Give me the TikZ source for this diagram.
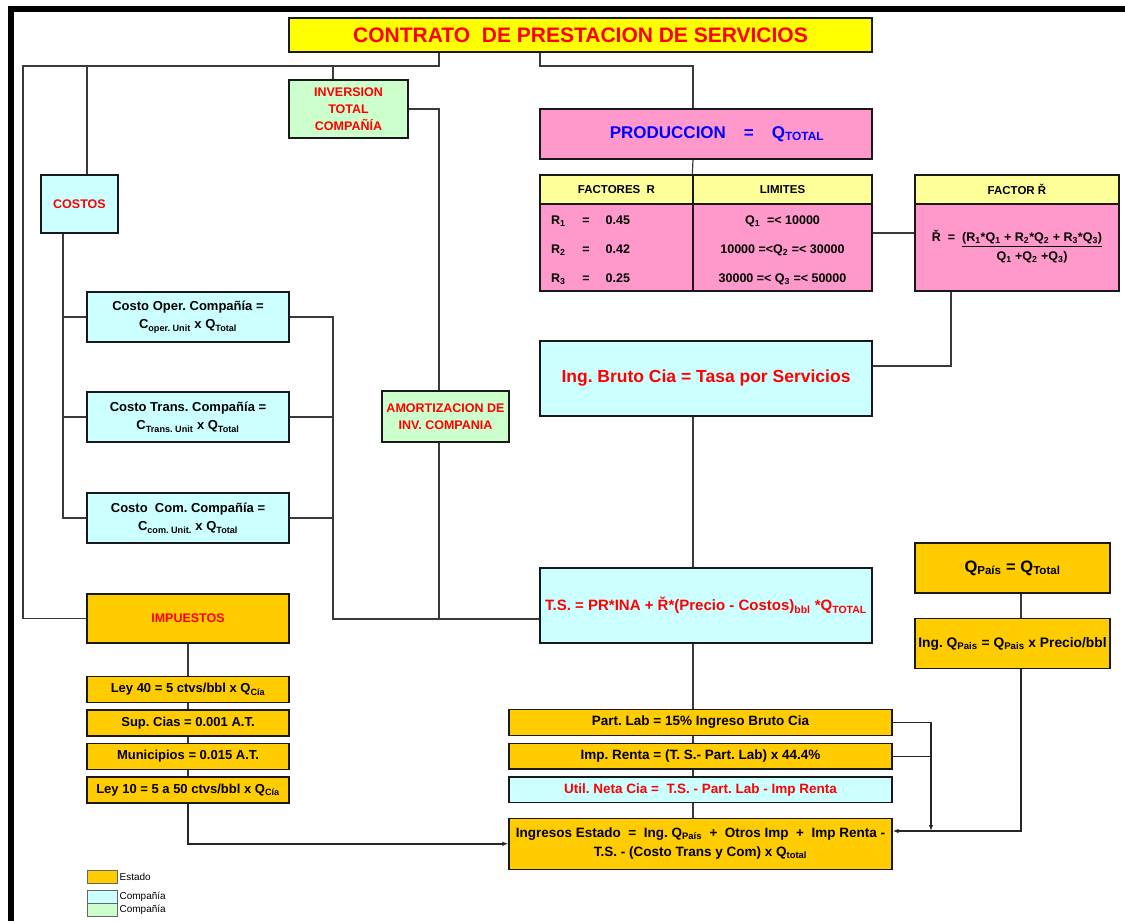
\documentclass[tikz,border=0pt]{standalone}
\usepackage{fontspec}
\setmainfont{Liberation Sans}
\usetikzlibrary{positioning,arrows.meta,calc}
\definecolor{titleyel}{HTML}{FFFF00}
\definecolor{headyel}{HTML}{FFFF99}
\definecolor{prodpink}{HTML}{FF99CC}
\definecolor{ciacyan}{HTML}{CCFFFF}
\definecolor{invgreen}{HTML}{CCFFCC}
\definecolor{estado}{HTML}{FFCC00}
\definecolor{txtred}{HTML}{FF0000}
\definecolor{txtblue}{HTML}{0000FF}
\definecolor{linegray}{HTML}{3A3A3A}
\newcommand{\dn}[1]{\textsubscript{#1}}
\newcommand{\fsz}[2]{\fontsize{#1}{#2}\selectfont\bfseries}
\frenchspacing

\begin{document}
\begin{tikzpicture}[x=1pt,y=-1pt,
      box/.style={draw=black!90,line width=1.3pt,inner sep=2pt,align=center},
      tax/.style={box,fill=estado,minimum width=202,minimum height=26,inner sep=1pt,font=\fsz{13}{15}},
      bot/.style={box,minimum width=383,minimum height=25.5,inner sep=1pt,font=\fsz{13.5}{16}},
      swatch/.style={draw=black!60,line width=0.8pt,minimum width=30,minimum height=13,inner sep=0pt},
      link/.style={draw=linegray,line width=1.2pt},
      arr/.style={draw=black!85,line width=1.6pt,-{Latex[length=6pt,width=4.5pt]}}]
    \useasboundingbox (0,0) rectangle (1125,921);
    \fill[black] (8,6) rectangle (1125,12);
    \fill[black] (8,6) rectangle (14,921);

    % cabecera y produccion
    \node[box,fill=titleyel,minimum width=583,minimum height=34,text=txtred,font=\fsz{21}{25}] (title) at (580.5,35)
      {CONTRATO~~DE PRESTACION DE SERVICIOS};
    \node[box,fill=invgreen,minimum width=119,minimum height=58,text=txtred,font=\fsz{12.5}{17}] (inv) at (348.5,109)
      {INVERSION\\TOTAL\\COMPAÑÍA};
    \node[box,fill=prodpink,minimum width=332,minimum height=50,text=txtblue,font=\fsz{17}{20}] (prod) at (706,134)
      {\hspace*{22pt}PRODUCCION\hspace{18pt}=\hspace{18pt}Q\dn{TOTAL}};

    % tabla de factores
    \node[box,fill=headyel,minimum width=153,minimum height=29,font=\fsz{11.5}{14}] (frh) at (616.5,189.5) {FACTORES~~R};
    \node[box,fill=headyel,minimum width=179,minimum height=29,font=\fsz{11.5}{14}] (limh) at (782.5,189.5) {LIMITES};
    \node[box,fill=prodpink,minimum width=153,minimum height=87,text width=131pt,inner xsep=11pt,inner ysep=2pt,
          align=left,font=\fsz{12.5}{29}] (frb) at (616.5,247.5)
      {\rule{0pt}{15pt}R\dn1\hspace{17pt}=\hspace{16pt}0.45\\R\dn2\hspace{17pt}=\hspace{16pt}0.42\\R\dn3\hspace{17pt}=\hspace{16pt}0.25};
    \node[box,fill=prodpink,minimum width=179,minimum height=87,font=\fsz{12.5}{29}] (limb) at (782.5,247.5)
      {\rule{0pt}{15pt}Q\dn1~~=< 10000\\10000 =<Q\dn2 =< 30000\\30000 =< Q\dn3 =< 50000};
    \node[box,fill=headyel,minimum width=204,minimum height=29,font=\fsz{11.5}{14}] (fh) at (1017,189.5) {FACTOR Ř};
    \node[box,fill=prodpink,minimum width=204,minimum height=87,font=\fsz{12.5}{15}] (fb) at (1017,247.5)
      {\setlength{\arrayrulewidth}{1.2pt}Ř~~=~~\begin{tabular}[t]{@{}c@{}}(R\dn1*Q\dn1 + R\dn2*Q\dn2 + R\dn3*Q\dn3)\\
       \hline\rule{0pt}{13.5pt}Q\dn1 +Q\dn2 +Q\dn3)\hspace{36pt}\end{tabular}};

    % compania
    \node[box,fill=ciacyan,minimum width=332,minimum height=75,text=txtred,font=\fsz{17.5}{21}] (ingb) at (706,378.5)
      {Ing. Bruto Cia = Tasa por Servicios};
    \node[box,fill=ciacyan,minimum width=332,minimum height=75,text=txtred,font=\fsz{15}{18},inner sep=1pt] (ts) at (706,605.5)
      {T.S. = PR*INA + Ř*(Precio - Costos)\dn{bbl} *Q\dn{TOTAL}};
    \node[box,fill=invgreen,minimum width=127,minimum height=51,text=txtred,font=\fsz{12.5}{17.5},inner sep=1pt] (amort) at (445.5,416.5)
      {AMORTIZACION DE\\INV. COMPANIA};
    \node[box,fill=ciacyan,minimum width=77,minimum height=58,text=txtred,font=\fsz{12.5}{15}] (costos) at (79.5,204) {COSTOS};
    \node[box,fill=ciacyan,minimum width=202,minimum height=50,font=\fsz{13}{18.5}] (oper) at (188,317)
      {Costo Oper. Compañía =\\C\dn{oper. Unit} x Q\dn{Total}};
    \node[box,fill=ciacyan,minimum width=202,minimum height=50,font=\fsz{13}{18.5}] (trans) at (188,417)
      {Costo Trans. Compañía =\\C\dn{Trans. Unit} x Q\dn{Total}};
    \node[box,fill=ciacyan,minimum width=202,minimum height=50,font=\fsz{13}{18.5}] (com) at (188,518)
      {Costo~~Com. Compañía =\\C\dn{com. Unit.} x Q\dn{Total}};

    % estado
    \node[box,fill=estado,minimum width=202,minimum height=49,text=txtred,font=\fsz{12.5}{15}] (imp) at (188,618.5) {IMPUESTOS};
    \node[tax] (ley40) at (188,689.5) {Ley 40 = 5 ctvs/bbl x Q\dn{Cía}};
    \node[tax] (sup) at (188,723) {Sup. Cias = 0.001 A.T.};
    \node[tax] (mun) at (188,756.3) {Municipios = 0.015 A.T.};
    \node[tax] (ley10) at (188,790) {Ley 10 = 5 a 50 ctvs/bbl x Q\dn{Cía}};
    \node[box,fill=estado,minimum width=195,minimum height=50,font=\fsz{16.5}{20}] (qpais) at (1012.5,568)
      {Q\dn{País} = Q\dn{Total}};
    \node[box,fill=estado,minimum width=195,minimum height=50,font=\fsz{13.8}{17},inner sep=1pt] (ingq) at (1012.5,643.5)
      {Ing. Q\dn{Pais} = Q\dn{Pais} x Precio/bbl};
    \node[bot,fill=estado] (plab) at (700.5,722.5) {Part. Lab = 15\% Ingreso Bruto Cia};
    \node[bot,fill=estado] (renta) at (700.5,756.3) {Imp. Renta = (T. S.- Part. Lab) x 44.4\%};
    \node[bot,fill=ciacyan,text=txtred] (util) at (700.5,789.7) {Util. Neta Cia =~~T.S. - Part. Lab - Imp Renta};
    \node[bot,fill=estado,minimum height=51,font=\fsz{13.5}{19}] (ingE) at (700.5,843.8)
      {Ingresos Estado~~=~~Ing. Q\dn{País}~~+~~Otros Imp~~+~~Imp Renta -\\T.S. - (Costo Trans y Com) x Q\dn{total}};

    % leyenda
    \node[swatch,fill=estado] (legE) at (102,876.5) {};
    \node[swatch,fill=ciacyan] (legC) at (102,897) {};
    \node[swatch,fill=invgreen] (legG) at (102,910) {};
    \node[anchor=west,inner sep=2pt,font=\fontsize{10}{12}\selectfont] (legEt) at (legE.east) {Estado};
    \node[anchor=west,inner sep=2pt,font=\fontsize{10}{12}\selectfont] (legCt) at (legC.east) {Compañía};
    \node[anchor=west,inner sep=2pt,font=\fontsize{10}{12}\selectfont] (legGt) at (legG.east) {Compañía};

    % puntos de union
    \coordinate (busL) at (23,66);
    \coordinate (busC) at (87,66);
    \coordinate (busI) at (333,66);
    \coordinate (busM) at (439,66);
    \coordinate (busN) at (540,66);
    \coordinate (busR) at (693,66);
    \coordinate (cSp) at (63,233);
    \coordinate (jTS) at (333,619);
    \coordinate (jT) at (893,233);
    \coordinate (jF) at (951,366);
    \coordinate (jQ) at (1021,831);
    \coordinate (jP) at (931,831);

    % conectores
    \draw[link] (title.south -| busM) -- (busM) -- (busL) |- (imp.west);
    \draw[link] (busC) -- (costos.north -| busC);
    \draw[link] (busI) -- (inv.north -| busI);
    \draw[link] (title.south -| busN) -- (busN) -- (busR) -- (prod.north -| busR);
    \draw[link] (prod.south -| busR) -- (limh.north west);
    \draw[link] (inv.east) -| (amort.north -| busM);
    \draw[link] (amort.south -| busM) -- (busM |- jTS);
    \draw[link] (oper.east) -| (jTS) -- (jTS -| ts.west);
    \draw[link] (trans.east) -- (trans.east -| jTS);
    \draw[link] (com.east) -- (com.east -| jTS);
    \draw[link] (costos.south -| cSp) |- (com.west);
    \draw[link] (cSp |- oper.west) -- (oper.west);
    \draw[link] (cSp |- trans.west) -- (trans.west);
    \draw[link] (jT -| limb.east) -- (jT -| fb.west);
    \draw[link] (fb.south -| jF) -- (jF) -- (jF -| ingb.east);
    \draw[link] (ingb.south -| busR) -- (ts.north -| busR);
    \foreach \a/\b in {ts/plab,plab/renta,renta/util,util/ingE}
      \draw[link] (\a.south -| busR) -- (\b.north -| busR);
    \foreach \a/\b in {imp/ley40,ley40/sup,sup/mun,mun/ley10}
      \draw[link] (\a.south) -- (\b.north);
    \draw[arr] (ley10.south) |- (ingE.west);
    \draw[link] (qpais.south -| jQ) -- (ingq.north -| jQ);
    \draw[arr] (ingq.south -| jQ) -- (jQ) -- (jQ -| ingE.east);
    \draw[arr,-] (renta.east) -- (renta.east -| jP);
    \draw[arr] (plab.east) -| (jP);
  \end{tikzpicture}
\end{document}
